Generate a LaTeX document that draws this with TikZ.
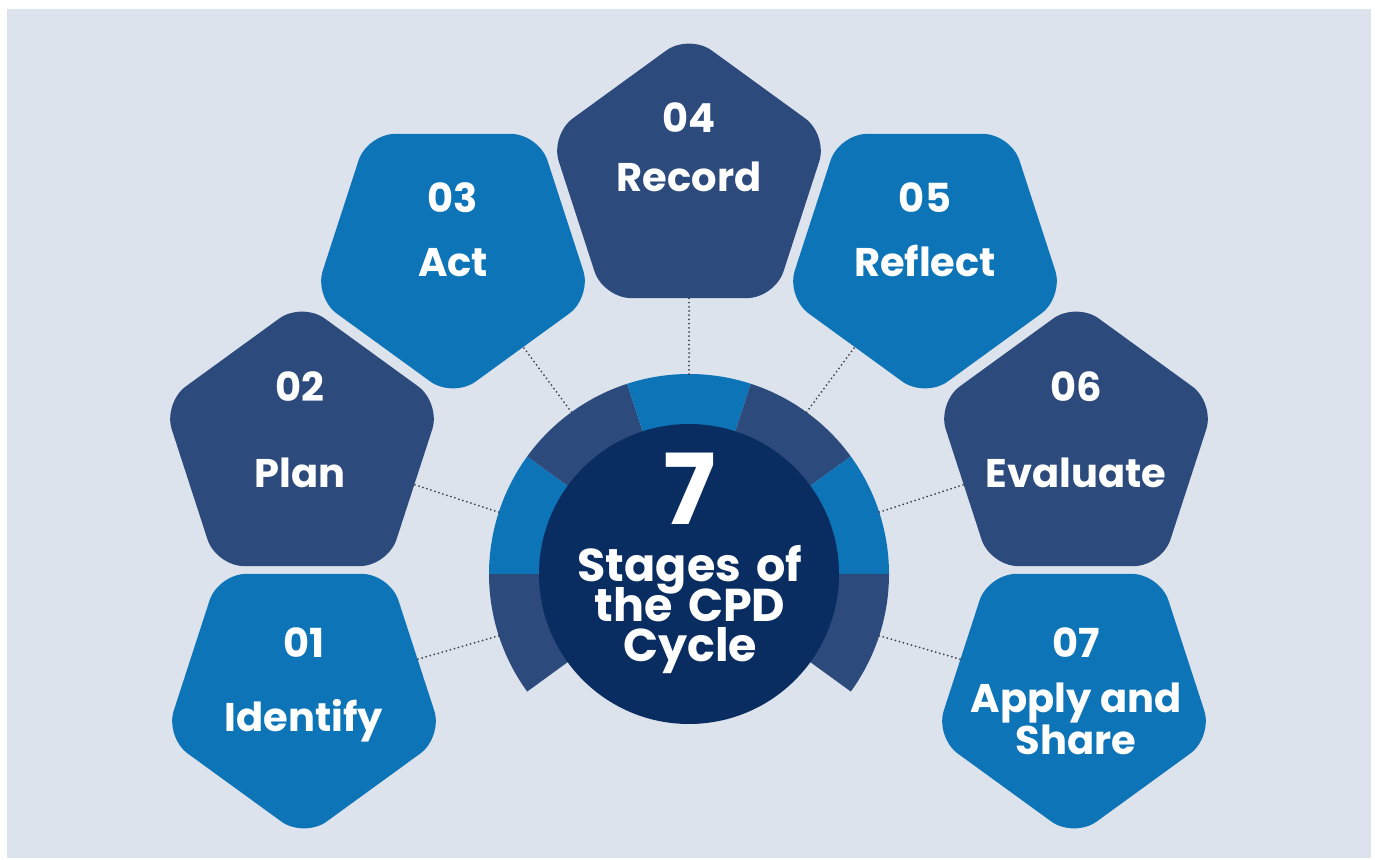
\documentclass[tikz,border=0pt]{standalone}
\usepackage{fontspec}
\setmainfont{Poppins}
\usetikzlibrary{shapes.geometric,calc}
\definecolor{pagebg}{RGB}{221,227,237}
\definecolor{navy}{RGB}{44,74,124}
\definecolor{azure}{RGB}{13,117,183}
\definecolor{deepnavy}{RGB}{10,45,97}
\definecolor{dotgray}{RGB}{62,66,76}
% fixed line pitch, even when tall glyphs would push lines apart
\newcommand\tightlines{\lineskiplimit=-100pt\relax}
\begin{document}
\begin{tikzpicture}[x=1pt,y=1pt,
  pent/.style={regular polygon, regular polygon sides=5, minimum size=292pt,
    inner sep=0pt, outer sep=0pt, rounded corners=28pt, fill=#1},
  pentdown/.style={pent=#1, regular polygon rotate=180},
  lbl/.style={text=white, font=\bfseries\fontsize{40}{40}\selectfont,
    anchor=base, inner sep=0pt},
  hubtxt/.style={text=white,
    font=\bfseries\fontsize{46}{40}\selectfont\tightlines,
    text width=300pt, align=center, anchor=base, inner sep=0pt},
  bignum/.style={text=white, font=\bfseries\fontsize{98}{98}\selectfont,
    anchor=base, inner sep=0pt},
  link/.style={draw=dotgray, line width=2pt, line cap=round,
    dash pattern=on 0pt off 4.2pt}]

% page and panel
\useasboundingbox (0,0) rectangle (1375,859);
\fill[white] (0,0) rectangle (1375,859);
\fill[pagebg] (7,1) rectangle (1371,850);

% hub: segmented ring behind a solid disc
\coordinate (c) at (689,285);
\foreach \i/\col in {0/navy,1/azure,2/navy,3/azure,4/navy,5/azure,6/navy}{
  \fill[\col] (c) -- ($(c)+({216-36*\i}:200)$)
    arc[start angle={216-36*\i}, end angle={180-36*\i}, radius=200] -- cycle;
}
\node[circle, fill=deepnavy, minimum size=300pt, inner sep=0pt] (hub) at (c) {};

% anchor points on the ring, one per stage
\foreach \n/\a in {1/198,2/162,3/126,4/90,5/54,6/18,7/-18}
  \coordinate (r\n) at ($(c)+(\a:200)$);

% stage pentagons
\node[pentdown=azure] (p1) at (304,167) {};
\node[pent=navy]      (p2) at (302,411) {};
\node[pentdown=azure] (p3) at (453,607) {};
\node[pent=navy]      (p4) at (689,679) {};
\node[pentdown=azure] (p5) at (925,607) {};
\node[pent=navy]      (p6) at (1076,411) {};
\node[pentdown=azure] (p7) at (1074,167) {};

% dotted links from ring to stages
\foreach \n in {1,...,7}
  \draw[link] (r\n) -- (p\n);

% stage labels
\node[lbl] (n1) at (304,201) {01};
\node[lbl] (t1) at (304,127) {Identify};
\node[lbl] (n2) at (300,457) {02};
\node[lbl] (t2) at (300,371) {Plan};
\node[lbl] (n3) at (453,646) {03};
\node[lbl] (t3) at (453,582) {Act};
\node[lbl] (n4) at (689,726) {04};
\node[lbl] (t4) at (689,667) {Record};
\node[lbl] (n5) at (925,646) {05};
\node[lbl] (t5) at (925,582) {Reflect};
\node[lbl] (n6) at (1076,457) {06};
\node[lbl] (t6) at (1076,371) {Evaluate};
\node[lbl] (n7) at (1076,201) {07};
\node[lbl] (t7a) at (1076,146) {Apply and};
\node[lbl] (t7b) at (1076,104) {Share};

% hub title
\node[bignum] (seven) at (690,334) {7};
\node[hubtxt] (title) at (690,277) {Stages of\\the CPD\\Cycle};
\end{tikzpicture}
\end{document}
